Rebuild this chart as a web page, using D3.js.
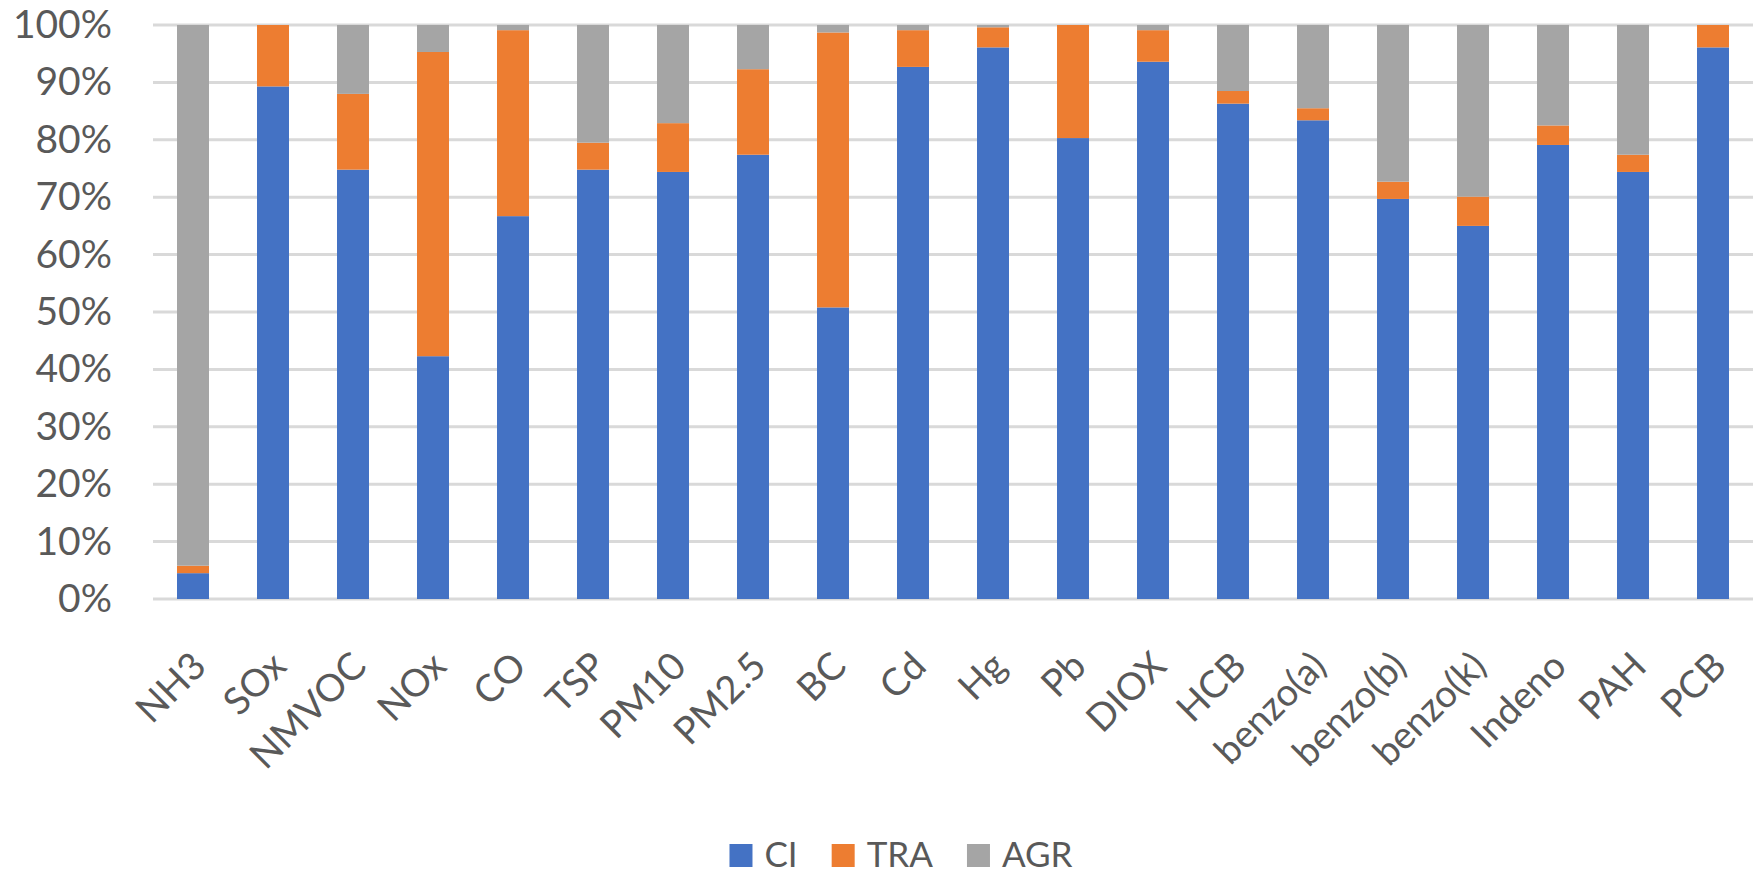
<!DOCTYPE html>
<html>
<head>
<meta charset="utf-8">
<script src="https://cdn.jsdelivr.net/npm/d3@7"></script>
<style>
  body { margin: 0; background: #fff; }
  text { font-family: Lato, "Open Sans", sans-serif; }
</style>
</head>
<body>
<div id="chart-area"></div>
<script>
const categories = ["NH3", "SOx", "NMVOC", "NOx", "CO", "TSP", "PM10", "PM2.5", "BC", "Cd",
  "Hg", "Pb", "DIOX", "HCB", "benzo(a)", "benzo(b)", "benzo(k)", "Indeno", "PAH", "PCB"];

const seriesNames = ["CI", "TRA", "AGR"];

const ciValues  = [4.5, 89.3, 74.8, 42.3, 66.7, 74.8, 74.4, 77.4, 50.8, 92.7,
  96.1, 80.3, 93.6, 86.3, 83.4, 69.7, 65.0, 79.1, 74.4, 96.1];
const traValues = [1.3, 10.7, 13.2, 53.0, 32.4, 4.7, 8.5, 14.9, 47.9, 6.4,
  3.5, 19.7, 5.5, 2.2, 2.1, 3.0, 5.1, 3.4, 3.0, 3.9];
const agrValues = [94.2, 0, 12.0, 4.7, 0.9, 20.5, 17.1, 7.7, 1.3, 0.9,
  0.4, 0, 0.9, 11.5, 14.5, 27.3, 29.9, 17.5, 22.6, 0];

const yTicks = [0, 10, 20, 30, 40, 50, 60, 70, 80, 90, 100];

const colors = ["#4472C4", "#ED7D31", "#A5A5A5"];

const W = 1758, H = 877;
const plot = { left: 153, right: 1753, top: 25, bottom: 599 };

const svg = d3.select("#chart-area")
  .append("svg")
  .attr("width", W)
  .attr("height", H);

const x = d3.scaleBand()
  .domain(categories)
  .range([plot.left, plot.right])
  .paddingInner(0.6)
  .paddingOuter(0.3);

const y = d3.scaleLinear()
  .domain([0, 100])
  .range([plot.bottom, plot.top]);

// gridlines
svg.append("g")
  .selectAll("line")
  .data(yTicks)
  .join("line")
  .attr("x1", plot.left)
  .attr("x2", plot.right)
  .attr("y1", d => y(d))
  .attr("y2", d => y(d))
  .attr("stroke", "#d9d9d9")
  .attr("stroke-width", 3);

// y labels
const yAxis = d3.axisLeft(y)
  .tickValues(yTicks)
  .tickFormat(d => d + "%")
  .tickSize(0)
  .tickPadding(0);

const yAxisGroup = svg.append("g")
  .attr("transform", `translate(112, 0)`)
  .call(yAxis);

yAxisGroup.select(".domain").remove();
yAxisGroup.selectAll("text")
  .attr("font-family", "Lato, 'Open Sans', sans-serif")
  .attr("font-size", "39px")
  .attr("fill", "#595959");

// stacked bars
const table = categories.map((c, i) => ({
  cat: c, CI: ciValues[i], TRA: traValues[i], AGR: agrValues[i]
}));

const stacked = d3.stack().keys(seriesNames)(table);

svg.append("g")
  .selectAll("g")
  .data(stacked)
  .join("g")
  .attr("fill", (d, i) => colors[i])
  .selectAll("rect")
  .data(d => d)
  .join("rect")
  .attr("x", d => x(d.data.cat))
  .attr("width", x.bandwidth())
  .attr("y", d => y(Math.min(d[1], 100)))
  .attr("height", d => y(d[0]) - y(Math.min(d[1], 100)));

// x labels, rotated
svg.append("g")
  .selectAll("text")
  .data(categories)
  .join("text")
  .attr("transform", d => `translate(${x(d) + x.bandwidth() / 2 + 6}, 659) rotate(-45)`)
  .attr("text-anchor", "end")
  .attr("dy", "0.35em")
  .attr("font-size", "38px")
  .attr("fill", "#595959")
  .text(d => d);

// legend
const legend = svg.append("g");
let lx = 0;
seriesNames.forEach((s, i) => {
  const item = legend.append("g").attr("transform", `translate(${lx}, 0)`);
  item.append("rect")
    .attr("x", 0)
    .attr("y", -23)
    .attr("width", 23)
    .attr("height", 23)
    .attr("fill", colors[i]);
  const t = item.append("text")
    .attr("x", 35)
    .attr("y", 0)
    .attr("font-size", "35px")
    .attr("fill", "#595959")
    .text(s);
  lx += 35 + t.node().getComputedTextLength() + 34;
});
const legendW = lx - 34;
legend.attr("transform", `translate(${901 - legendW / 2}, 867)`);
</script>
</body>
</html>
